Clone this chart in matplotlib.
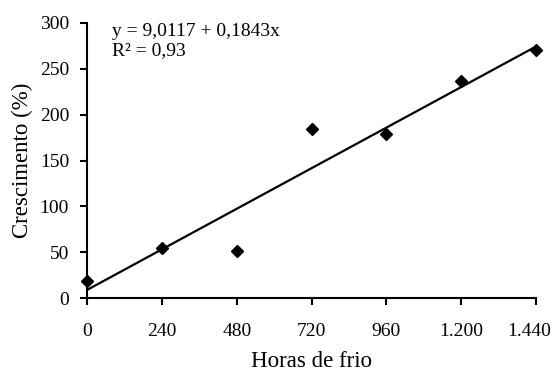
import matplotlib
matplotlib.use('Agg')
from matplotlib import pyplot as plt
from matplotlib import transforms
import numpy as np

plt.rcParams['font.family'] = ['Liberation Serif', 'DejaVu Serif']

# data
horas = [0, 240, 480, 720, 960, 1200, 1440]
crescimento = [19, 55, 51, 184, 179, 237, 271]
xtick_labels = ['0', '240', '480', '720', '960', '1.200', '1.440']
yticks = [0, 50, 100, 150, 200, 250, 300]

# regression line
a, b = 9.0117, 0.1843
x_fit = np.array([horas[0], horas[-1]])
y_fit = a + b * x_fit

fig = plt.figure(figsize=(5.55, 3.76), dpi=100)
ax = fig.add_axes([0.157, 0.207, 0.809, 0.732])

ax.plot(x_fit, y_fit, color='black', linewidth=1.6, zorder=2)
ax.plot(horas, crescimento, linestyle='none', marker='D', markersize=6,
        color='black', zorder=3, clip_on=False)

ax.set_xlim(0, 1440)
ax.set_ylim(0, 300)
ax.set_xticks(horas)
ax.set_xticklabels(xtick_labels)
ax.set_yticks(yticks)

for s in ['top', 'right']:
    ax.spines[s].set_visible(False)
for s in ['left', 'bottom']:
    ax.spines[s].set_linewidth(1.5)

ax.tick_params(axis='x', direction='out', length=5, width=1.5, pad=13, labelsize=14)
ax.tick_params(axis='y', direction='out', length=5, width=1.5, pad=8, labelsize=14)

# last label pulled left so it stays inside the figure
last = ax.get_xticklabels()[-1]
last.set_transform(last.get_transform() + transforms.ScaledTranslation(-7 / 100, 0, fig.dpi_scale_trans))

ax.set_xlabel('Horas de frio', fontsize=16.5, labelpad=8)
ax.set_ylabel('Crescimento (%)', fontsize=16.5, labelpad=5)

ax.text(0.056, 1.0, 'y = 9,0117 + 0,1843x\nR² = 0,93', transform=ax.transAxes,
        fontsize=14, va='top', ha='left', linespacing=1.15)

fig.savefig('out.png', dpi=100)
